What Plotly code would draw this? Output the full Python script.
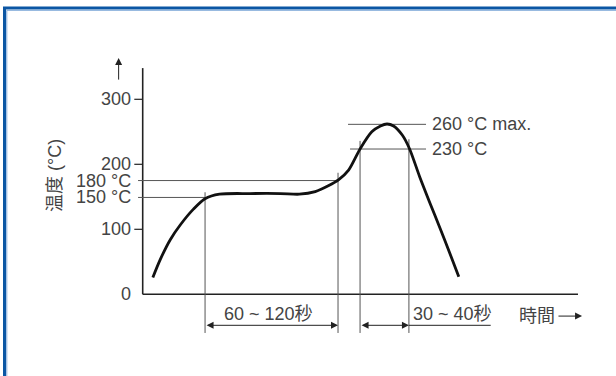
import plotly.graph_objects as go

# ---------------- data ----------------
curve_time = [7, 12, 19, 26, 35, 43, 53, 74, 95, 108, 119, 128, 135, 142, 150,
              158, 164, 168.5, 173, 179, 184, 191, 198, 205, 212, 218]
curve_temp = [26, 53, 84, 107, 131, 147, 154, 155, 155, 154, 158, 167, 176, 191, 224,
              250, 259, 262, 259, 245, 224, 181, 141, 102, 62, 27]

y_ticks = [0, 100, 200, 300]
y_tick_labels = ["0", "100", "200", "300"]

low_levels = [149, 175]            # as drawn in the picture
low_labels = ["150 °C", "180 °C"]
high_levels = [223.5, 261.5]
high_labels = ["230 °C", "260 °C max."]

marker_times = [43, 134.7, 149.9, 183.6]
marker_tops = [157, 187, 236, 238.5]

span_labels = ["60 ~ 120秒", "30 ~ 40秒"]
x_title = "時間"
y_title = "温度 (°C)"

# ---------------- layout constants ----------------
X_RANGE = [-98.41, 326.41]
Y_RANGE = [-125.69, 452.77]
Y_AXIS_TOP = 348
X_AXIS_END = 300.2
DIM_Y = -47.7
MARK_BOTTOM = -59.5
LABEL_X = -6.7
FONT = "Liberation Sans, Arial, Noto Sans CJK JP, sans-serif"
TXT = "#444444"
GRAY = "#555555"
AX = "#222222"

fig = go.Figure()


def seg(xs, ys, color=GRAY, width=1):
    fig.add_trace(go.Scatter(x=xs, y=ys, mode="lines", hoverinfo="skip",
                             line=dict(color=color, width=width), showlegend=False))


# axes
seg([0, 0], [0, Y_AXIS_TOP], AX, 1.6)
seg([0, X_AXIS_END], [0, 0], AX, 1.6)
for v in y_ticks[1:]:
    seg([-5.8, 0], [v, v], AX, 1.2)

# marker verticals
for t, top in zip(marker_times, marker_tops):
    seg([t, t], [MARK_BOTTOM, top], GRAY, 1)

# low level lines to first two markers
for lv, t in zip(low_levels, marker_times[:2]):
    seg([-3.2, t], [lv, lv], GRAY, 1)

# high level lines
seg([141.6, 195.4], [high_levels[1], high_levels[1]], GRAY, 1)
seg([143.0, 195.4], [high_levels[0], high_levels[0]], GRAY, 1)

# extension of second dimension line
seg([marker_times[3], 240], [DIM_Y, DIM_Y], AX, 1)

# profile curve
fig.add_trace(go.Scatter(x=curve_time, y=curve_temp, mode="lines", hoverinfo="skip",
                         line=dict(color="#111111", width=2.8, shape="spline", smoothing=0.8),
                         showlegend=False))

ann = []
tf = dict(family=FONT, size=18, color=TXT)
for v, lab in zip(y_ticks, y_tick_labels):
    ann.append(dict(x=LABEL_X, y=v, text=lab, showarrow=False, xanchor="right",
                    yanchor="middle", font=tf))
for v, lab in zip(low_levels, low_labels):
    ann.append(dict(x=LABEL_X, y=v, text=lab, showarrow=False, xanchor="right",
                    yanchor="middle", font=tf))
for v, lab in zip(high_levels, high_labels):
    ann.append(dict(x=198.1, y=v, text=lab, showarrow=False, xanchor="left",
                    yanchor="middle", font=tf))

ann.append(dict(x=86.6, y=-30.3, text=span_labels[0], showarrow=False,
                xanchor="center", yanchor="middle", font=tf))
ann.append(dict(x=185.0, y=-30.3, text=span_labels[1], showarrow=False,
                xanchor="left", yanchor="middle", font=tf))
ann.append(dict(x=257.9, y=-33.5, text=x_title, showarrow=False,
                xanchor="left", yanchor="middle", font=tf))
ann.append(dict(x=-60.5, y=183.5, text=y_title, showarrow=False, textangle=-90,
                xanchor="center", yanchor="middle", font=tf))

arrow = dict(showarrow=True, text="", axref="x", ayref="y", arrowhead=2,
             arrowsize=1.4, arrowwidth=1, arrowcolor=AX)
# dimension arrows
ann.append(dict(arrow, x=marker_times[1], y=DIM_Y, ax=marker_times[0], ay=DIM_Y,
                arrowside="end+start"))
ann.append(dict(arrow, x=marker_times[3], y=DIM_Y, ax=marker_times[2], ay=DIM_Y,
                arrowside="end+start"))
# axis direction arrows
ann.append(dict(arrow, x=-16.6, y=363.5, ax=-16.6, ay=328))
ann.append(dict(arrow, x=303.0, y=-33.5, ax=285.7, ay=-33.5))

fig.update_layout(
    width=616, height=376,
    margin=dict(l=0, r=0, t=0, b=0),
    paper_bgcolor="white", plot_bgcolor="white",
    xaxis=dict(range=X_RANGE, visible=False, fixedrange=True),
    yaxis=dict(range=Y_RANGE, visible=False, fixedrange=True),
    annotations=ann,
    shapes=[
        dict(type="rect", xref="paper", yref="paper", x0=4.5 / 616, x1=1.2,
             y0=-0.2, y1=1 - 8 / 376, line=dict(color="#0b56a4", width=3)),
        dict(type="rect", xref="paper", yref="paper", x0=6.8 / 616, x1=1.2,
             y0=-0.2, y1=1 - 10.3 / 376, line=dict(color="#7fa9d9", width=1)),
    ],
)

fig.write_html("out.html",
               config={"displayModeBar": False},
               post_script="document.body.style.margin='0';document.body.style.overflow='hidden';")
